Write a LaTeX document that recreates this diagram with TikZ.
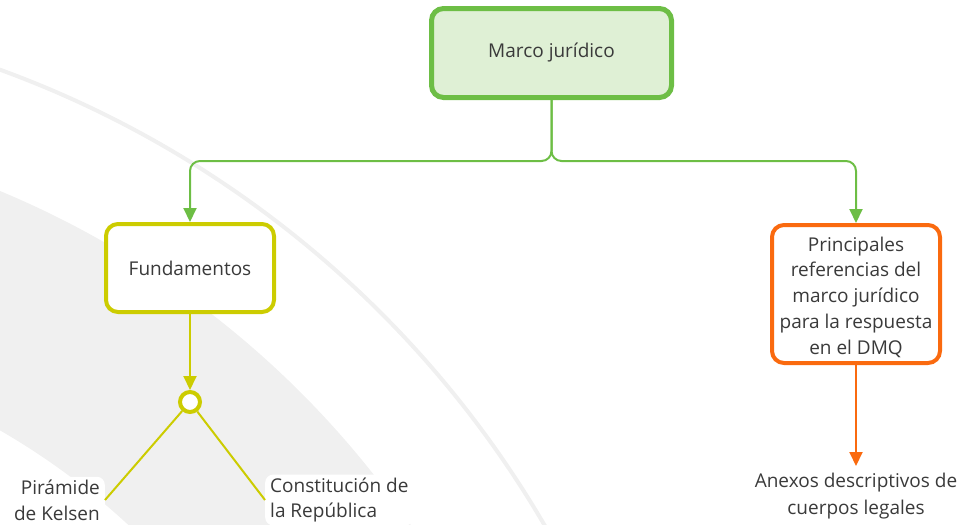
\documentclass[tikz,border=0pt]{standalone}
\usepackage{fontspec}
\setmainfont{Open Sans}
\usetikzlibrary{arrows.meta}
\definecolor{mgreen}{HTML}{6DBE45}
\definecolor{mgreenfill}{HTML}{DFF0D5}
\definecolor{myellow}{HTML}{CCCC00}
\definecolor{morange}{HTML}{FA6A0F}
\definecolor{mtext}{HTML}{3A3A3A}
\definecolor{bandgray}{HTML}{F0F0F0}
\tikzset{
  txt/.style={text=mtext, font=\fontsize{19}{25.7}\selectfont},
  mainbox/.style={txt, draw=mgreen, fill=mgreenfill, line width=5pt, rounded corners=12pt, minimum width=240pt, minimum height=89pt, inner sep=0pt},
  fundbox/.style={txt, draw=myellow, fill=white, line width=4pt, rounded corners=12pt, minimum width=168pt, minimum height=88pt, inner sep=0pt},
  refbox/.style={draw=morange, fill=white, line width=4pt, rounded corners=12pt, minimum width=168pt, minimum height=138pt, inner sep=0pt},
  leaf/.style={txt, fill=white, rounded corners=8pt, inner xsep=5pt, inner ysep=3pt},
  gline/.style={draw=mgreen, line width=2pt, rounded corners=10pt},
  yline/.style={draw=myellow, line width=2pt},
  oline/.style={draw=morange, line width=2pt},
  tip/.style={-{Triangle[length=14pt,width=13pt]}}
}
\begin{document}
\begin{tikzpicture}[x=1pt,y=-1pt]
\useasboundingbox (0,0) rectangle (962,525);
\begin{scope}
  \clip (0,0) rectangle (962,525);
  \fill[bandgray, even odd rule] (-357,1050) circle (930pt) (-357,1050) circle (715pt);
  \draw[bandgray, line width=4pt] (-357,1050) circle (1043pt);
\end{scope}
\node[mainbox] (marco) at (551.5,53) {Marco jurídico};
\node[fundbox] (fund) at (190,268) {Fundamentos};
\node[refbox] (ref) at (856,294) {};
\node[txt, align=center, inner sep=0pt] (reftext) at (856,297) {Principales\\referencias del\\marco jurídico\\para la respuesta\\en el DMQ};
\node[circle, draw=myellow, line width=4pt, fill=white, minimum size=20pt, inner sep=0pt] (circ) at (190,402) {};
\node[leaf, anchor=east, align=right] (pir) at (105,500) {Pirámide\\de Kelsen};
\node[leaf, anchor=west, align=left] (const) at (265,500) {Constitución de\\la República};
\node[txt, align=center, anchor=north, inner xsep=1pt, inner ysep=7pt, font=\fontsize{19}{27}\selectfont] (anexos) at (856,466) {Anexos descriptivos de\\cuerpos legales};
\draw[gline, tip] (marco.south) -- (551.5,161) -- (fund.north |- 0,161) -- (fund.north);
\draw[gline, tip] (marco.south) -- (551.5,161) -- (ref.north |- 0,161) -- (ref.north);
\draw[yline, tip] (fund.south) -- (circ.north);
\draw[yline] (circ) -- (pir.east);
\draw[yline] (circ) -- (const.west);
\draw[oline, tip] (ref.south) -- (anexos.north);
\end{tikzpicture}
\end{document}
